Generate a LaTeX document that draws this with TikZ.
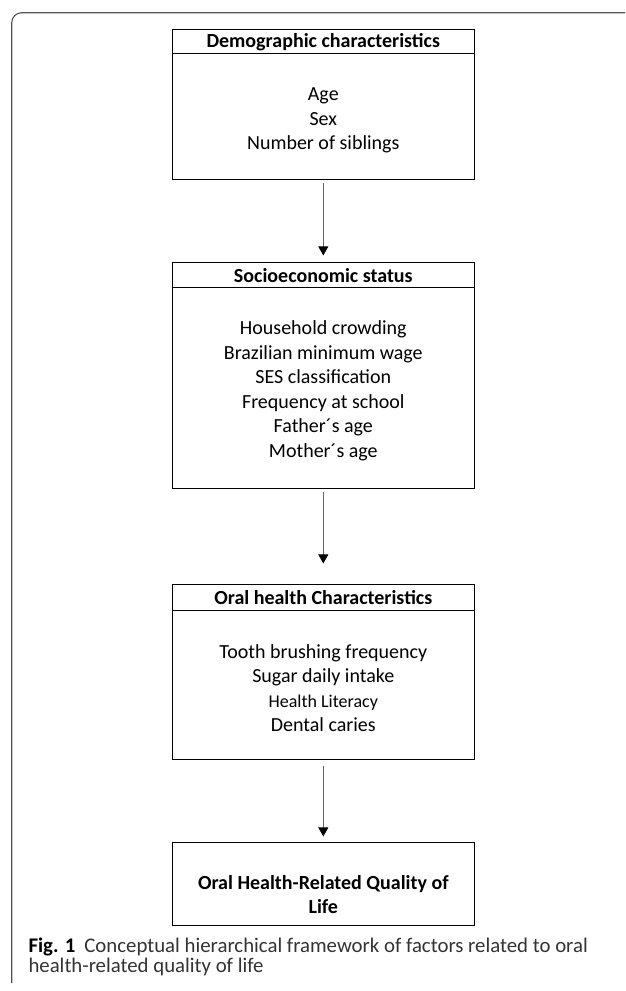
\documentclass[tikz,border=0pt]{standalone}
\usepackage{fontspec}
\setmainfont{Carlito}
\usetikzlibrary{arrows.meta}
\definecolor{framegray}{HTML}{555555}
\definecolor{arrowgray}{HTML}{666666}
\definecolor{capgray}{HTML}{333333}
\tikzset{
  boxnode/.style={draw=black, line width=1.2pt, minimum width=302pt, inner sep=0pt},
  headtext/.style={font=\fontsize{20}{24.5}\selectfont\bfseries, inner sep=0pt, align=center},
  bodytext/.style={font=\fontsize{20}{24.5}\selectfont, inner sep=0pt, align=center},
  connector/.style={draw=arrowgray, line width=0.9pt, -{Triangle[width=10pt,length=9pt,fill=black,color=black]}},
  framestyle/.style={draw=framegray, line width=1.1pt, rounded corners=10pt},
  captext/.style={font=\fontsize{20.8}{20}\selectfont, text=capgray, inner sep=0pt, anchor=base west}
}
\begin{document}
\begin{tikzpicture}[x=1pt, y=-1pt]
\useasboundingbox (0,0) rectangle (625,991);
% outer frame
\draw[framestyle] (11.7,983) -- (11.7,12.7) -- (625,12.7);

% box 1
\node[boxnode, minimum height=150pt] (b1) at (323.3,104.3) {};
\node[headtext] (h1) at (323.3,41.8) {Demographic characteristics};
\draw[line width=1.2pt] ([yshift=-25pt]b1.north west) -- ([yshift=-25pt]b1.north east);
\node[bodytext] (t1) at (323.3,120.5) {Age\\Sex\\Number of siblings};

% box 2
\node[boxnode, minimum height=226pt] (b2) at (323.3,375.3) {};
\node[headtext] (h2) at (323.3,275.3) {Socioeconomic status};
\draw[line width=1.2pt] ([yshift=-26pt]b2.north west) -- ([yshift=-26pt]b2.north east);
\node[bodytext] (t2) at (323.3,391) {Household crowding\\Brazilian minimum wage\\SES classification\\Frequency at school\\Father´s age\\Mother´s age};

% box 3
\node[boxnode, minimum height=175pt] (b3) at (323.3,671.8) {};
\node[headtext] (h3) at (323.3,597.6) {Oral health Characteristics};
\draw[line width=1.2pt] ([yshift=-26.7pt]b3.north west) -- ([yshift=-26.7pt]b3.north east);
\node[bodytext] (t3) at (323.3,688) {Tooth brushing frequency\\Sugar daily intake\\{\fontsize{18}{24.5}\selectfont Health Literacy}\\Dental caries};

% box 4
\node[boxnode, minimum height=83.4pt] (b4) at (323.3,884) {};
\node[headtext] (t4) at (323.3,894.5) {Oral Health-Related Quality of\\Life};

% connectors
\draw[connector, shorten <=3pt, shorten >=6.3pt] (b1.south) -- (b2.north);
\draw[connector, shorten <=3.4pt, shorten >=20.3pt] (b2.south) -- (b3.north);
\draw[connector, shorten <=5.7pt, shorten >=5.3pt] (b3.south) -- (b4.north);

% caption
\node[captext] (cap1) at (28.3,952.7) {{\color{black}\bfseries Fig. 1}\hspace{9pt}Conceptual hierarchical framework of factors related to oral};
\node[captext] (cap2) at (28.3,972.7) {health-related quality of life};
\end{tikzpicture}
\end{document}
